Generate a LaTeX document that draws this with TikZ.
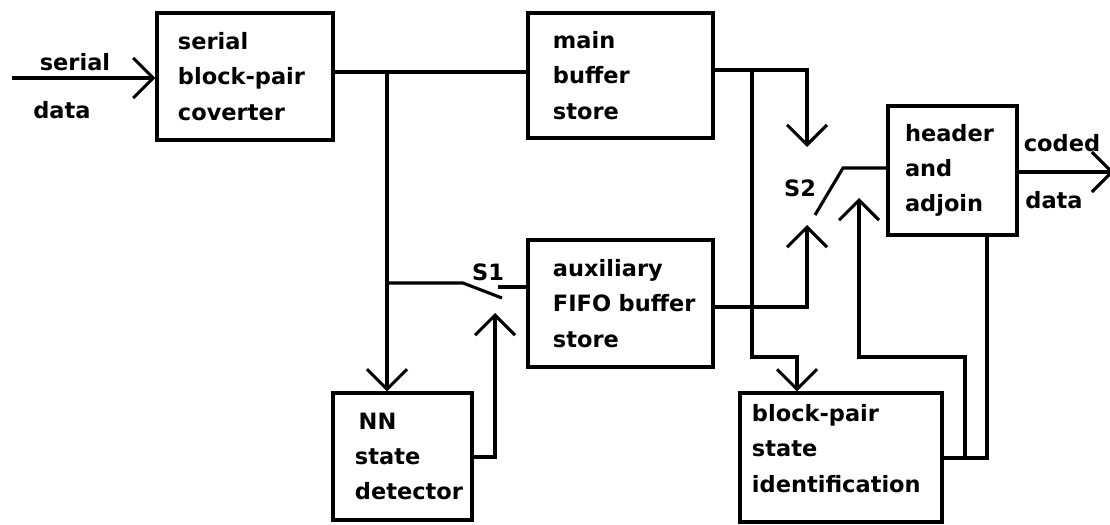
\documentclass[tikz,border=0pt]{standalone}
\usepackage{fontspec}
\setmainfont{DejaVu Sans}
\usetikzlibrary{arrows.meta}

\begin{document}
\begin{tikzpicture}[x=0.025cm, y=-0.025cm, line width=2.2pt,
  >={Straight Barb[length=5mm,width=10mm]},
  font=\bfseries\fontsize{16}{25}\selectfont,
  block/.style={draw, align=left, inner sep=2pt},
  lbl/.style={inner sep=0pt}]

\clip (0,0) rectangle (1110,525);

\node[block, minimum width=4.4cm, minimum height=3.175cm, text width=3.35cm] (conv) at (245,76.5) {serial\\block-pair\\coverter};
\node[block, minimum width=4.625cm, minimum height=3.125cm, text width=3.375cm] (mainbuf) at (620.5,75.5) {main\\buffer\\store};
\node[block, minimum width=4.625cm, minimum height=3.175cm, text width=3.375cm] (aux) at (620.5,303.5) {auxiliary\\FIFO~buffer\\store};
\node[block, minimum width=3.475cm, minimum height=3.175cm, text width=2.375cm] (nn) at (402.5,456.5) {\,NN\\state\\detector};
\node[block, minimum width=3.225cm, minimum height=3.225cm, text width=2.375cm] (hdr) at (952.5,170.5) {header\\and\\adjoin};
\node[block, minimum width=5.05cm, minimum height=3.225cm, text width=4.45cm] (bp) at (841,457.5) {block-pair\\state\\identification\\[-12pt]\mbox{}};

\node[lbl] (inlbla) at (75,62) {serial};
\node[lbl] (inlblb) at (62,110) {data};
\node[lbl] (outlbla) at (1062,143) {coded};
\node[lbl] (outlblb) at (1054,200) {data};
\node[lbl] (s1lbl) at (488,272) {S1};
\node[lbl] (s2lbl) at (800,188) {S2};

\coordinate (in) at (12,78);
\coordinate (j1) at (387,72);
\coordinate (j2) at (387,283);
\coordinate (s1a) at (463,283);
\coordinate (s1b) at (502,298);
\coordinate (s1c) at (498,287);
\coordinate (s1ctl) at (495,313);
\coordinate (n1) at (495,457);
\coordinate (j3) at (752,70);
\coordinate (k1) at (797,357);
\coordinate (s2top) at (807,147);
\coordinate (s2bot) at (807,225);
\coordinate (a1) at (713,307);
\coordinate (s2a) at (843,168);
\coordinate (s2b) at (815,215);
\coordinate (f1) at (965,458);
\coordinate (f2) at (859,357);
\coordinate (s2ctl) at (859,198);
\coordinate (h1) at (987,458);
\coordinate (out) at (1114,172);

\draw[->] (in) -- (in -| conv.west);
\draw (conv.east |- j1) -- (mainbuf.west |- j1);
\draw[->] (j1) -- (j1 |- nn.north);
\draw (j2) -- (s1a) -- (s1b);
\draw (aux.west |- s1c) -- (s1c);
\draw[->] (nn.east |- n1) -| (s1ctl);
\draw[->] (mainbuf.east |- j3) -| (s2top);
\draw[->] (j3) |- (k1) -- (k1 |- bp.north);
\draw[->] (a1) -| (s2bot);
\draw (hdr.west |- s2a) -- (s2a) -- (s2b);
\draw[->] (bp.east |- f1) -- (f1) |- (f2) -- (s2ctl);
\draw (h1 |- hdr.south) -- (h1) -- (f1);
\draw[->] (hdr.east |- out) -- (out);
\end{tikzpicture}
\end{document}
